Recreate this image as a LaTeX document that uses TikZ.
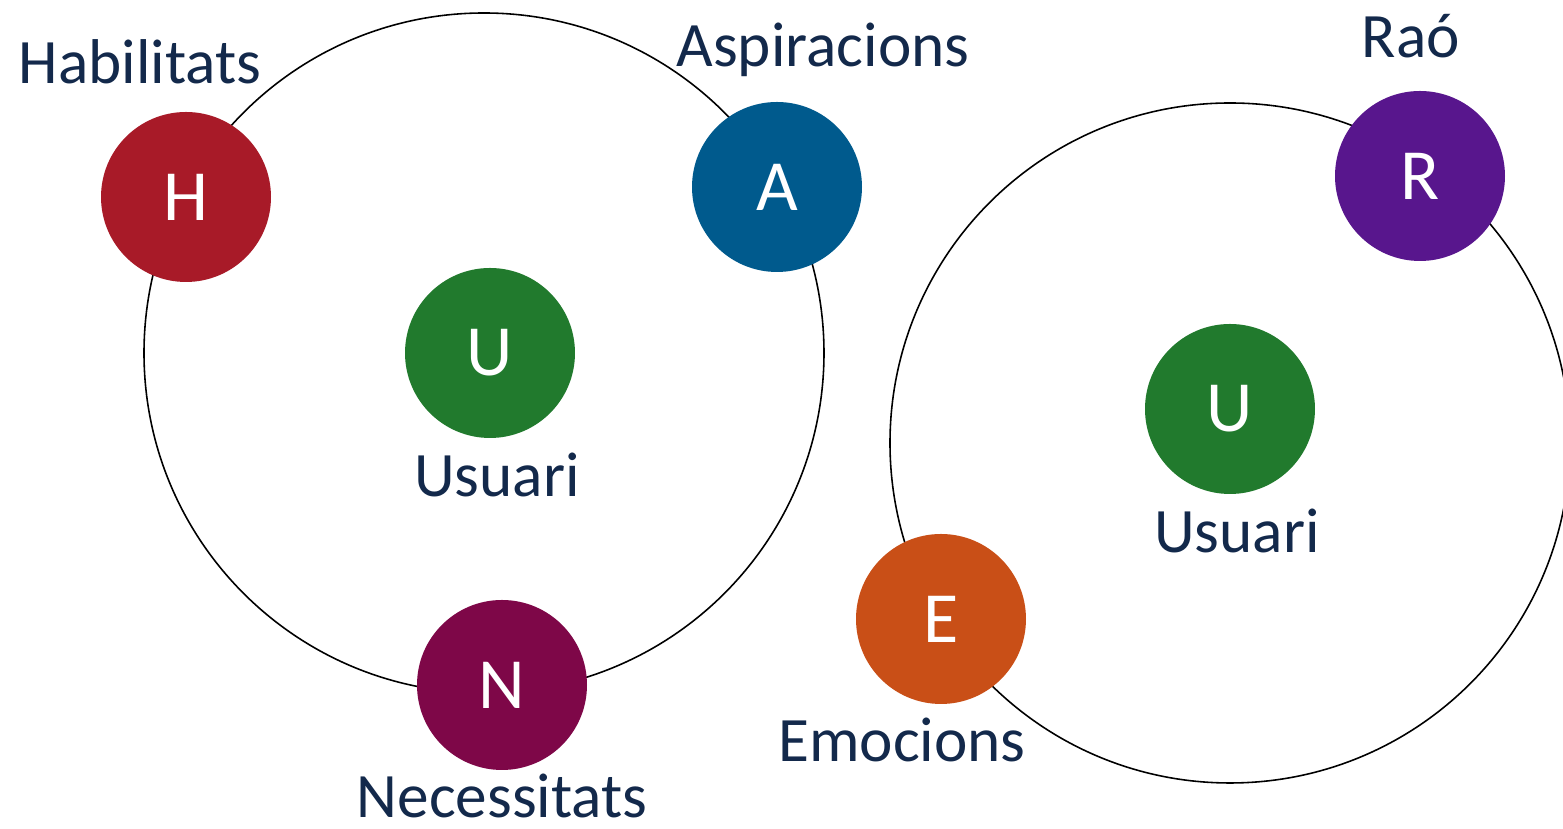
\documentclass[tikz,border=0pt]{standalone}
\usepackage{fontspec}
\setmainfont{Carlito}
\usepackage{xcolor}
\usepackage{tikz}

\definecolor{habred}{HTML}{A81A28}
\definecolor{aspblue}{HTML}{005A8D}
\definecolor{usrgreen}{HTML}{217A2D}
\definecolor{necwine}{HTML}{7E0748}
\definecolor{raopurple}{HTML}{58168D}
\definecolor{emoorange}{HTML}{C94F17}
\definecolor{navytext}{HTML}{13294B}

\begin{document}
\begin{tikzpicture}[
    ring/.style={draw=black,line width=0.45pt},
    dot/.style={circle,minimum size=1.7cm,inner sep=0pt,text=white,font=\fontsize{20.5}{24}\selectfont},
    lbl/.style={anchor=base,text=navytext,font=\fontsize{18}{22}\selectfont,inner sep=0pt}
]
            \useasboundingbox (0,0) rectangle (15.63,8.29);
            \clip (0,0) rectangle (15.63,8.29);

            % Big rings
            \draw[ring] (4.84,4.76) circle (3.40);
            \draw[ring] (12.30,3.86) circle (3.40);

            % Left group
            \node[dot,fill=habred] (hab) at (1.86,6.32) {H};
            \node[dot,fill=aspblue] (asp) at (7.77,6.42) {A};
            \node[dot,fill=usrgreen] (usr1) at (4.90,4.76) {U};
            \node[dot,fill=necwine] (nec) at (5.02,1.44) {N};

            % Right group
            \node[dot,fill=raopurple] (rao) at (14.20,6.53) {R};
            \node[dot,fill=usrgreen] (usr2) at (12.30,4.20) {U};
            \node[dot,fill=emoorange] (emo) at (9.41,2.10) {E};

            % Labels
            \node[lbl] (habtxt) at (1.40,7.45) {Habilitats};
            \node[lbl] (asptxt) at (8.23,7.62) {Aspiracions};
            \node[lbl] (usr1txt) at (4.97,3.32) {Usuari};
            \node[lbl] (nectxt) at (5.02,0.11) {Necessitats};
            \node[lbl] (raotxt) at (14.11,7.71) {Raó};
            \node[lbl] (usr2txt) at (12.37,2.76) {Usuari};
            \node[lbl] (emotxt) at (9.02,0.67) {Emocions};
        \end{tikzpicture}
\end{document}
